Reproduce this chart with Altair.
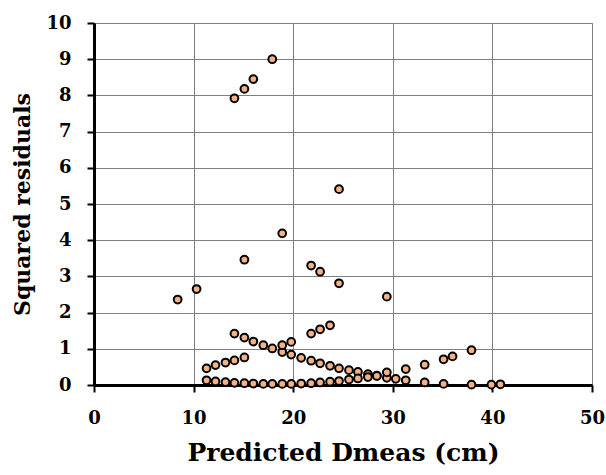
import altair as alt
import pandas as pd

# scattered high residuals
xA = [8.4, 10.3, 14.1, 15.1, 16.0, 17.9, 15.1, 18.9, 21.8, 22.7, 24.6, 24.6, 29.4]
yA = [2.36, 2.65, 7.92, 8.18, 8.45, 9.00, 3.46, 4.19, 3.30, 3.13, 5.41, 2.81, 2.44]
# short ascending group
xB = [11.3, 12.2, 13.2, 14.1, 15.1]
yB = [0.46, 0.55, 0.62, 0.68, 0.76]
# descending group
xC = [14.1, 15.1, 16.0, 17.0, 17.9, 18.9, 19.8, 20.8, 21.8, 22.7, 23.7, 24.6, 25.6,
      26.5, 27.5, 28.4, 29.4, 30.3, 31.3, 33.2, 35.1, 37.9, 39.9, 40.8]
yC = [1.42, 1.31, 1.20, 1.10, 1.01, 0.91, 0.84, 0.75, 0.67, 0.60, 0.53, 0.46, 0.41,
      0.36, 0.30, 0.26, 0.20, 0.17, 0.13, 0.07, 0.03, 0.01, 0.01, 0.02]
# upper ascending group
xD = [18.9, 19.8, 21.8, 22.7, 23.7]
yD = [1.10, 1.19, 1.42, 1.54, 1.65]
# bottom ascending group
xE = [11.3, 12.2, 13.2, 14.1, 15.1, 16.0, 17.0, 17.9, 18.9, 19.8, 20.8, 21.8, 22.7,
      23.7, 24.6, 25.6, 26.5, 27.5, 28.4, 29.4, 31.3, 33.2, 35.1, 36.0, 37.9]
yE = [0.13, 0.10, 0.08, 0.06, 0.05, 0.04, 0.03, 0.03, 0.03, 0.03, 0.04, 0.05, 0.07,
      0.09, 0.11, 0.15, 0.18, 0.22, 0.25, 0.35, 0.44, 0.56, 0.71, 0.79, 0.96]

xs = xA + xB + xC + xD + xE
ys = yA + yB + yC + yD + yE
df = pd.DataFrame({"pred": xs, "sqres": ys})

FONT = "DejaVu Serif"

chart = alt.Chart(df).mark_point(
    shape="circle", filled=True, fill="#F4B183", stroke="#000000",
    strokeWidth=2, size=60, opacity=1
).encode(
    x=alt.X("pred:Q", scale=alt.Scale(domain=[0, 50], nice=False, zero=False),
            axis=alt.Axis(values=[0, 10, 20, 30, 40, 50], title="Predicted Dmeas (cm)",
                          titlePadding=13, labelPadding=17, tickSize=7,
                          labelFlush=False, titleFontSize=25)),
    y=alt.Y("sqres:Q", scale=alt.Scale(domain=[0, 10], nice=False),
            axis=alt.Axis(values=list(range(0, 11)), title="Squared residuals",
                          titlePadding=11, labelPadding=16, tickSize=7,
                          labelFlush=False, titleFontSize=22)),
).properties(
    width=498, height=362,
    autosize=alt.AutoSizeParams(type="none"),
    padding={"left": 94, "top": 23, "right": 14, "bottom": 90},
).configure_axis(
    domainColor="#000000", domainWidth=3, tickColor="#000000", tickWidth=2,
    gridColor="#7f7f7f", gridWidth=1, gridOpacity=1,
    labelFont=FONT, labelFontSize=18, labelFontWeight="bold", labelColor="#000000",
    titleFont=FONT, titleFontWeight="bold", titleColor="#000000",
).configure_view(stroke="#7f7f7f", strokeWidth=1)

chart.save("out.html", embed_options={"renderer": "svg", "actions": False})
